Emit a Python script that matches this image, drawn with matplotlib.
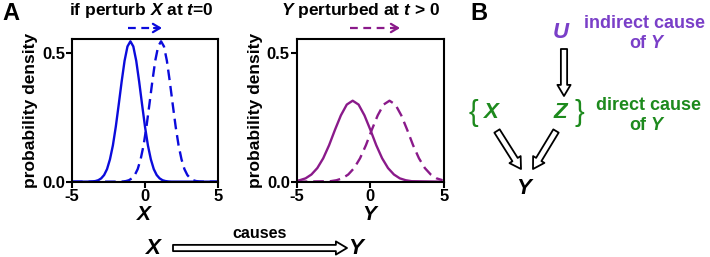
import numpy as np
import matplotlib
matplotlib.use("Agg")
import matplotlib.pyplot as plt
from matplotlib.patches import FancyArrowPatch

plt.rcParams['font.family'] = ['Liberation Sans', 'DejaVu Sans']
plt.rcParams['font.weight'] = 'bold'
plt.rcParams['axes.labelweight'] = 'bold'
plt.rcParams['axes.unicode_minus'] = False
plt.rcParams['mathtext.fontset'] = 'custom'
plt.rcParams['mathtext.it'] = 'Liberation Sans:italic:bold'
plt.rcParams['mathtext.rm'] = 'Liberation Sans:bold'
plt.rcParams['mathtext.bf'] = 'Liberation Sans:bold'

# curves
x_before = [-5, -3.8, -3.6, -3.4, -3.2, -3.0, -2.8, -2.6, -2.4, -2.2, -2.0, -1.8, -1.6, -1.4, -1.2, -1.0,
            -0.8, -0.6, -0.4, -0.2, 0.0, 0.2, 0.4, 0.6, 0.8, 1.0, 1.2, 1.4, 1.6, 1.8, 5]
x_after = [-5, -1.7, -1.5, -1.3, -1.1, -0.9, -0.7, -0.5, -0.3, -0.1, 0.1, 0.3, 0.5, 0.7, 0.9, 1.1,
           1.3, 1.5, 1.7, 1.9, 2.1, 2.3, 2.5, 2.7, 2.9, 3.1, 3.3, 3.5, 3.7, 3.9, 5]
px = [0, .0003, .001, .0025, .0058, .013, .026, .049, .087, .141, .214, .300, .389, .470, .526, .546,
      .526, .470, .389, .300, .214, .141, .087, .049, .026, .013, .0058, .0025, .001, .0003, 0]

y_before = [-5, -4.8, -4.4, -4.0, -3.6, -3.2, -2.8, -2.4, -2.0, -1.6, -1.2, -0.8, -0.4, 0.0, 0.4,
            0.8, 1.2, 1.6, 2.0, 2.4, 2.8, 5]
py_before = [.0036, .0057, .013, .028, .053, .091, .142, .202, .258, .300, .315, .300, .258, .202, .142,
             .091, .053, .028, .013, .0057, .002, 0]
y_after = [-5, -2.7, -2.3, -1.9, -1.5, -1.1, -0.7, -0.3, 0.1, 0.5, 0.9, 1.3, 1.7, 2.1, 2.5, 2.9,
           3.3, 3.7, 4.1, 4.5, 4.9]
py_after = [0, .002, .0057, .013, .028, .053, .091, .142, .202, .258, .300, .315, .300, .258, .202, .142,
            .091, .053, .028, .013, .0057]

blue = "#0b0bdc"
purple = "#8a1a8a"
green = "#1d8a1d"
violet = "#7a3fc8"

fig = plt.figure(figsize=(7.1, 2.57), dpi=100)

def panel(rect, xs, ys, xd, yd, col, lab):
    ax = fig.add_axes(rect)
    ax.plot(xs, ys, color=col, lw=1.7)
    ax.plot(xd, yd, color=col, lw=1.7, ls=(0, (4.5, 2.5)))
    ax.set_xlim(-5, 5)
    ax.set_ylim(0, 0.555)
    ax.set_xticks([-5, 0, 5])
    ax.set_yticks([0, 0.5])
    ax.set_yticklabels(["0.0", "0.5"])
    for s in ax.spines.values():
        s.set_linewidth(1.5)
    ax.tick_params(width=1.5, length=4, labelsize=12, pad=1)
    ax.set_ylabel("probability density", fontsize=12.5, labelpad=3)
    ax.set_xlabel(lab, fontsize=15, labelpad=1)
    return ax

W, H = 710, 257
def rect(x0, x1, y0, y1):
    return [x0 / W, 1 - y1 / H, (x1 - x0) / W, (y1 - y0) / H]

panel(rect(72, 218, 39, 181.7), x_before, px, x_after, px, blue, "$X$")
panel(rect(296.7, 444, 39, 181.7), y_before, py_before, y_after, py_after, purple, "$Y$")

# overlay in pixel coordinates for the annotations
ov = fig.add_axes([0, 0, 1, 1], facecolor="none")
ov.set_xlim(0, W)
ov.set_ylim(H, 0)
ov.axis("off")

ov.text(11, 13, "A", fontsize=17, ha="center", va="center")
ov.text(479, 14, "B", fontsize=17, ha="center", va="center")
ov.text(141, 11, "if perturb $X$ at $t$=0", fontsize=12.5, ha="center", va="center")
ov.text(361, 11, "$Y$ perturbed at $t$ > 0", fontsize=12.5, ha="center", va="center")

def dashed_arrow(x0, x1, y, col):
    ov.plot([x0, x1 - 2], [y, y], color=col, lw=1.6, ls=(0, (3.5, 2.5)))
    ov.annotate("", xy=(x1, y), xytext=(x1 - 8, y),
                arrowprops=dict(arrowstyle="->,head_length=0.5,head_width=0.3", color=col, lw=1.6,
                                shrinkA=0, shrinkB=0))

dashed_arrow(128, 162, 28, blue)
dashed_arrow(350, 400, 28, purple)

def hollow(p0, p1, tail=4.5, hw=9.5, hl=8):
    a = FancyArrowPatch(p0, p1, arrowstyle=f"simple,head_length={hl},head_width={hw},tail_width={tail}",
                        mutation_scale=1, fc="white", ec="black", lw=1.3, shrinkA=0, shrinkB=0)
    ov.add_patch(a)

# bottom causal statement
ov.text(153, 248, "$X$", fontsize=16, ha="center", va="center")
ov.text(357, 248, "$Y$", fontsize=16, ha="center", va="center")
ov.text(260, 233, "causes", fontsize=11.5, ha="center", va="center")
hollow((173, 248), (347, 248))

# panel B
ov.text(561, 33, "$U$", fontsize=16, ha="center", va="center", color=violet)
ov.text(645, 24, "indirect cause", fontsize=13, ha="center", va="center", color=violet)
ov.text(648, 43, "of $Y$", fontsize=13, ha="center", va="center", color=violet)
hollow((564, 49), (564, 96))

ov.text(473, 113, "{", fontsize=21, ha="center", va="center", color=green, fontweight="normal")
ov.text(491, 113, "$X$", fontsize=16, ha="center", va="center", color=green)
ov.text(561, 113, "$Z$", fontsize=16, ha="center", va="center", color=green)
ov.text(579, 113, "}", fontsize=21, ha="center", va="center", color=green, fontweight="normal")
ov.text(649, 106, "direct cause", fontsize=13, ha="center", va="center", color=green)
ov.text(648, 125, "of $Y$", fontsize=13, ha="center", va="center", color=green)
hollow((497, 131), (521, 169))
hollow((556, 131), (533, 169))
ov.text(525, 189, "$Y$", fontsize=16, ha="center", va="center")

fig.savefig("out.png", dpi=100)
